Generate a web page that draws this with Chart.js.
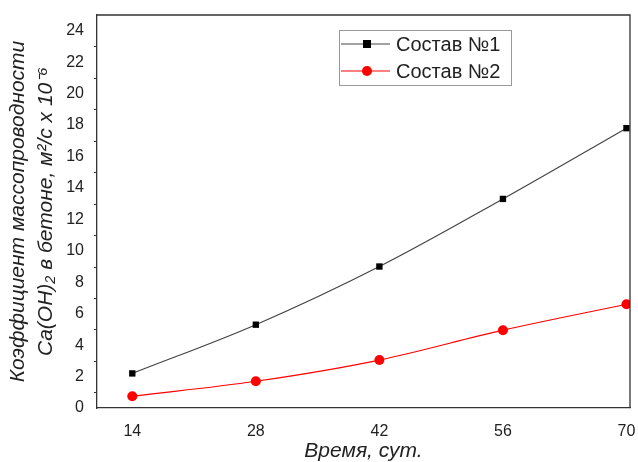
<!DOCTYPE html>
<html>
<head>
<meta charset="utf-8">
<script src="https://cdn.jsdelivr.net/npm/chart.js@4"></script>
<style>
  html, body { margin: 0; padding: 0; background: #fff; }
  #wrap { width: 638px; height: 462px; }
</style>
</head>
<body>
<div id="wrap"><canvas id="myChart" width="638" height="462"></canvas></div>
<script>
// данные с графика
const days = [14, 28, 42, 56, 70];
const sostav1 = [2.2, 5.3, 9.0, 13.3, 17.8];
const sostav2 = [0.75, 1.7, 3.05, 4.95, 6.6];
const xTicks = [14, 28, 42, 56, 70];
const yTicks = [0, 2, 4, 6, 8, 10, 12, 14, 16, 18, 20, 22, 24];
const seriesNames = ['Состав №1', 'Состав №2'];

const axisColor = '#333';
const font = 'Liberation Sans, Arial, sans-serif';

// рамка, малые деления и легенда
const extras = {
    id: 'extras',
    afterDraw(chart) {
        const { ctx, chartArea: a } = chart;
        const y = chart.scales.y;
        ctx.save();
        ctx.strokeStyle = axisColor;
        ctx.lineWidth = 1.3;
        ctx.beginPath();
        ctx.moveTo(a.left, a.top);
        ctx.lineTo(a.right, a.top);
        ctx.lineTo(a.right, a.bottom);
        ctx.stroke();

        // малые деления по оси Y
        ctx.lineWidth = 1;
        for (let v = 1; v < 25; v += 2) {
            const py = Math.round(y.getPixelForValue(v)) + 0.5;
            ctx.beginPath();
            ctx.moveTo(a.left - 3, py);
            ctx.lineTo(a.left, py);
            ctx.stroke();
        }

        // легенда
        const bx = 339, by = 30, bw = 172, bh = 55;
        ctx.strokeStyle = '#999';
        ctx.lineWidth = 1;
        ctx.strokeRect(bx + 0.5, by + 0.5, bw, bh);
        const items = [
            { label: seriesNames[0], line: '#444', mark: '#000', square: true },
            { label: seriesNames[1], line: '#ff0000', mark: '#ff0000', square: false }
        ];
        items.forEach((it, i) => {
            const cy = by + 14 + i * 27;
            ctx.strokeStyle = it.line;
            ctx.lineWidth = 1;
            ctx.beginPath();
            ctx.moveTo(bx + 2, cy);
            ctx.lineTo(bx + 51, cy);
            ctx.stroke();
            ctx.fillStyle = it.mark;
            if (it.square) {
                ctx.fillRect(bx + 24, cy - 4, 8, 8);
            } else {
                ctx.beginPath();
                ctx.arc(bx + 28, cy, 5, 0, Math.PI * 2);
                ctx.fill();
            }
            ctx.fillStyle = '#222';
            ctx.font = '20px ' + font;
            ctx.textBaseline = 'middle';
            ctx.fillText(it.label, bx + 57, cy + 1);
        });
        ctx.restore();
    }
};

const ctx = document.getElementById('myChart').getContext('2d');
const myChart = new Chart(ctx, {
    type: 'line',
    data: {
        datasets: [{
            label: seriesNames[0],
            data: days.map((d, i) => ({ x: d, y: sostav1[i] })),
            borderColor: '#444',
            borderWidth: 1.2,
            backgroundColor: '#000',
            pointStyle: 'rect',
            pointRadius: 4.5,
            pointBorderWidth: 0,
            tension: 0.35
        }, {
            label: seriesNames[1],
            data: days.map((d, i) => ({ x: d, y: sostav2[i] })),
            borderColor: '#ff0000',
            borderWidth: 1.2,
            backgroundColor: '#ff0000',
            pointStyle: 'circle',
            pointRadius: 5,
            pointBorderWidth: 0,
            tension: 0.35
        }]
    },
    options: {
        responsive: false,
        animation: false,
        layout: { padding: { top: 15, right: 8, left: 0, bottom: 0 } },
        plugins: { legend: { display: false }, tooltip: { enabled: false } },
        scales: {
            x: {
                type: 'linear',
                min: 10,
                max: 70.4,
                afterBuildTicks: s => { s.ticks = xTicks.map(v => ({ value: v })); },
                afterFit: s => { s.height = 54; s.paddingLeft = 0; s.paddingRight = 0; },
                grid: { display: false, drawTicks: true, tickLength: 6, color: axisColor },
                border: { display: true, color: axisColor, width: 1.3 },
                ticks: { color: '#222', font: { family: font, size: 16 }, padding: 8, maxRotation: 0 },
                title: {
                    display: true,
                    text: 'Время, сут.',
                    color: '#222',
                    font: { family: font, size: 21, style: 'italic', lineHeight: 1 },
                    padding: { top: 0, bottom: 0 }
                }
            },
            y: {
                min: 0,
                max: 25,
                afterBuildTicks: s => { s.ticks = yTicks.map(v => ({ value: v })); },
                afterFit: s => { s.width = 97; s.paddingTop = 0; s.paddingBottom = 0; },
                grid: { display: false, drawTicks: true, tickLength: 6, color: axisColor },
                border: { display: true, color: axisColor, width: 1.3 },
                ticks: { color: '#222', font: { family: font, size: 16 }, padding: 7 },
                title: {
                    display: true,
                    text: ['Коэффициент массопроводности', 'Ca(OH)₂ в бетоне, м²/с x 10⁻⁶'],
                    color: '#222',
                    font: { family: font, size: 21, style: 'italic', lineHeight: 1.3 },
                    padding: { top: 5, bottom: 2 }
                }
            }
        }
    },
    plugins: [extras]
});
</script>
</body>
</html>
